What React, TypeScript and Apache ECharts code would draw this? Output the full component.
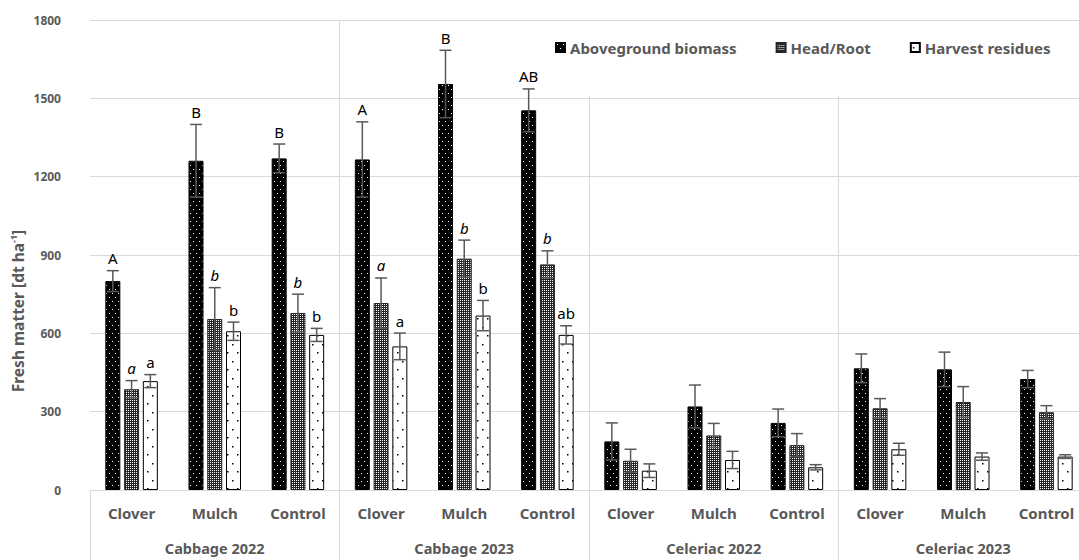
import React, { useEffect, useRef } from "react";
import * as echarts from "echarts";

const treatments = ["Clover", "Mulch", "Control", "Clover", "Mulch", "Control", "Clover", "Mulch", "Control", "Clover", "Mulch", "Control"];
const groups = ["Cabbage 2022", "Cabbage 2023", "Celeriac 2022", "Celeriac 2023"];
const seriesNames = ["Aboveground biomass", "Head/Root", "Harvest residues"];

const agb = [800, 1261, 1270, 1266, 1555, 1454, 186, 320, 257, 466, 462, 425];
const agbErr = [40, 139, 55, 144, 129, 82, 71, 82, 53, 55, 66, 33];
const head = [386, 655, 678, 716, 886, 864, 112, 209, 172, 313, 337, 298];
const headErr = [33, 120, 72, 96, 71, 52, 44, 46, 44, 37, 59, 25];
const res = [417, 608, 594, 550, 668, 594, 74, 115, 87, 156, 128, 128];
const resErr = [25, 35, 25, 51, 58, 35, 26, 33, 10, 23, 14, 7];

const agbLetters = ["A", "B", "B", "A", "B", "AB", "", "", "", "", "", ""];
const headLetters = ["a", "b", "b", "a", "b", "b", "", "", "", "", "", ""];
const resLetters = ["a", "b", "b", "a", "b", "ab", "", "", "", "", "", ""];

const yTicks = { min: 0, max: 1800, interval: 300 };

const FONT = "'Noto Sans', 'DejaVu Sans', sans-serif";
const GRAY = "#595959";
const GRID = "#d9d9d9";

function makePattern(w: number, h: number, bg: string, fg: string, dots: number[][]) {
  const c = document.createElement("canvas");
  c.width = w;
  c.height = h;
  const ctx = c.getContext("2d")!;
  ctx.fillStyle = bg;
  ctx.fillRect(0, 0, w, h);
  ctx.fillStyle = fg;
  dots.forEach(([x, y, s]) => ctx.fillRect(x, y, s, s));
  return { image: c.toDataURL(), repeat: "repeat", imageWidth: w, imageHeight: h };
}

export default function App() {
  const ref = useRef<HTMLDivElement>(null);
  useEffect(() => {
    if (!ref.current) return;
    const chart = echarts.init(ref.current, undefined, { renderer: "svg" });

    const pAgb = makePattern(6, 8, "#000000", "#ffffff", [[1, 1, 1], [4, 5, 1]]);
    const pHead = makePattern(2, 2, "#262626", "#ffffff", [[0, 0, 1]]);
    const pRes = makePattern(10, 17, "#ffffff", "#000000", [[2, 4, 1.5], [7, 12, 1.5]]);

    const BAR_W = 15;
    const GAP_RATIO = 0.25;
    const step = BAR_W * (1 + GAP_RATIO);

    const errSeries = (vals: number[], errs: number[], letters: string[], k: number, italic: boolean) => ({
      type: "custom",
      name: "err" + k,
      z: 5,
      clip: false,
      data: vals.map((v, i) => [i, v, errs[i]]),
      renderItem: (params: any, api: any) => {
        const i = api.value(0);
        const v = api.value(1);
        const e = api.value(2);
        const base = api.coord([i, v]);
        const top = api.coord([i, v + e]);
        const bot = api.coord([i, v - e]);
        const x = base[0] + (k - 1) * step;
        const st = { stroke: GRAY, lineWidth: 1.5 };
        const children: any[] = [
          { type: "line", shape: { x1: x, y1: top[1], x2: x, y2: bot[1] }, style: st },
          { type: "line", shape: { x1: x - 6, y1: top[1], x2: x + 6, y2: top[1] }, style: st },
          { type: "line", shape: { x1: x - 6, y1: bot[1], x2: x + 6, y2: bot[1] }, style: st },
        ];
        const t = letters[params.dataIndex];
        if (t) {
          children.push({
            type: "text",
            x,
            y: top[1] - 5,
            style: {
              text: t,
              align: "center",
              verticalAlign: "bottom",
              fontFamily: FONT,
              fontSize: 15,
              fontStyle: italic ? "italic" : "normal",
              fill: "#000",
            },
          });
        }
        return { type: "group", children };
      },
    });

    const barBase = {
      type: "bar",
      barWidth: BAR_W,
      barGap: GAP_RATIO * 100 + "%",
      xAxisIndex: 0,
      z: 2,
    };

    chart.setOption({
      animation: false,
      grid: { left: 90, top: 20, width: 998, height: 470, containLabel: false, outerBoundsMode: "none" },
      legend: {
        data: seriesNames,
        left: 545,
        top: 21,
        padding: [19, 10, 41, 10],
        itemWidth: 9,
        itemHeight: 9,
        itemGap: 39,
        icon: "rect",
        backgroundColor: "#ffffff",
        selectedMode: false,
        z: 6,
        textStyle: { fontFamily: FONT, fontWeight: "bold", fontSize: 15, color: GRAY },
      },
      xAxis: [
        {
          type: "category",
          data: treatments,
          position: "bottom",
          axisLine: { show: true, lineStyle: { color: GRID, width: 1 } },
          axisTick: { show: false },
          axisLabel: { margin: 15, fontFamily: FONT, fontWeight: "bold", fontSize: 15, color: GRAY, interval: 0 },
          splitLine: { show: false },
        },
        {
          type: "category",
          data: groups,
          position: "bottom",
          axisLine: { show: false },
          axisTick: { show: true, length: 70, inside: false, lineStyle: { color: GRID, width: 1 } },
          axisLabel: { margin: 50, fontFamily: FONT, fontWeight: "bold", fontSize: 14.5, color: GRAY, interval: 0 },
          splitLine: { show: true, showMinLine: false, lineStyle: { color: GRID, width: 1 } },
        },
      ],
      yAxis: {
        type: "value",
        min: yTicks.min,
        max: yTicks.max,
        interval: yTicks.interval,
        axisLine: { show: false },
        axisTick: { show: false },
        axisLabel: {
          margin: 29,
          fontFamily: FONT,
          fontWeight: "bold",
          fontSize: 12,
          color: GRAY,
          formatter: (v: number) => String(v),
        },
        splitLine: { show: true, lineStyle: { color: GRID, width: 1 } },
      },
      graphic: [
        {
          type: "text",
          x: 18,
          y: 311,
          rotation: Math.PI / 2,
          style: {
            text: "{a|Fresh matter [dt ha}{s|-1}{a|]}",
            align: "center",
            verticalAlign: "middle",
            fill: GRAY,
            rich: {
              a: { fontFamily: FONT, fontWeight: "bold", fontSize: 15.5, fill: GRAY, color: GRAY, lineHeight: 18 },
              s: { fontFamily: FONT, fontWeight: "bold", fontSize: 9, fill: GRAY, color: GRAY, lineHeight: 18, verticalAlign: "top" },
            },
          },
        },
      ],
      series: [
        { ...barBase, name: seriesNames[0], data: agb, itemStyle: { color: pAgb, borderColor: "#000", borderWidth: 1 } },
        { ...barBase, name: seriesNames[1], data: head, itemStyle: { color: pHead, borderColor: "#262626", borderWidth: 1 } },
        { ...barBase, name: seriesNames[2], data: res, itemStyle: { color: pRes, borderColor: "#000", borderWidth: 1 } },
        errSeries(agb, agbErr, agbLetters, 0, false),
        errSeries(head, headErr, headLetters, 1, true),
        errSeries(res, resErr, resLetters, 2, false),
      ],
    });
    return () => chart.dispose();
  }, []);
  return <div ref={ref} style={{ width: 1079, height: 560, position: "absolute", left: 0, top: 0 }} />;
}
